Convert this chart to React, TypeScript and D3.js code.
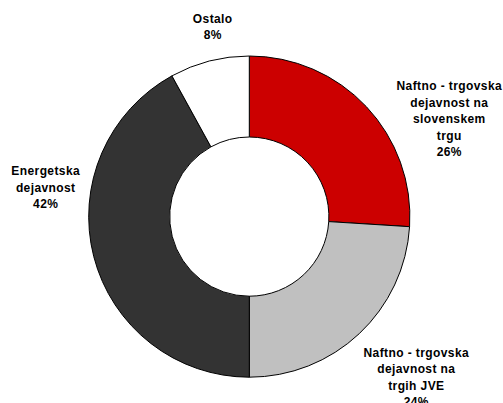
import { useEffect, useRef } from 'react';
import * as d3 from 'd3';

// Shares of activity (%), clockwise from 12 o'clock
const categories = [
  'Naftno - trgovska dejavnost na slovenskem trgu',
  'Naftno - trgovska dejavnost na trgih JVE',
  'Energetska dejavnost',
  'Ostalo',
];
const values = [26, 24, 42, 8];
const labelLines = [
  ['Naftno - trgovska', 'dejavnost na', 'slovenskem', 'trgu'],
  ['Naftno - trgovska', 'dejavnost na', 'trgih JVE'],
  ['Energetska', 'dejavnost'],
  ['Ostalo'],
];
const colors = ['#cc0000', '#c0c0c0', '#333333', '#ffffff'];

const WIDTH = 503;
const HEIGHT = 403;
const CX = 249.3;
const CY = 216.6;
const OUTER = 160.6;
const INNER = 79.6;
const LINE_H = 16.5;

// label block centre (first line) as offsets from the donut centre
const labelAnchor: [number, number][] = [
  [200, -130.6],
  [167, 135.8],
  [-203.6, -45.6],
  [-36.6, -198.3],
];

export default function App() {
  const svgRef = useRef<SVGSVGElement>(null);

  useEffect(() => {
    if (!svgRef.current) return;
    const svg = d3.select(svgRef.current);
    svg.selectAll('*').remove();

    const pie = d3
      .pie<number>()
      .sort(null)
      .value((d: number) => d);
    const arcs = pie(values);
    const arc = d3.arc<d3.PieArcDatum<number>>().innerRadius(INNER).outerRadius(OUTER);

    const g = svg.append('g').attr('transform', `translate(${CX}, ${CY})`);

    g.selectAll('path')
      .data(arcs)
      .enter()
      .append('path')
      .attr('d', arc)
      .attr('fill', (_d: unknown, i: number) => colors[i])
      .attr('stroke', '#000000')
      .attr('stroke-width', 1)
      .attr('stroke-linejoin', 'round');

    arcs.forEach((a, i) => {
      const [lx, ly] = labelAnchor[i];
      const lines = [...labelLines[i], `${values[i]}%`];
      const text = g
        .append('text')
        .attr('text-anchor', 'middle')
        .attr('font-family', '"Liberation Sans", Arial, sans-serif')
        .attr('font-size', '12px')
        .attr('font-weight', 'bold')
        .attr('letter-spacing', '0.4px')
        .attr('fill', '#000000')
        .attr('aria-label', categories[i]);
      lines.forEach((line, j) => {
        text
          .append('tspan')
          .attr('x', lx)
          .attr('y', ly + j * LINE_H)
          .attr('dy', '0.35em')
          .text(line);
      });
      void a;
    });
  }, []);

  return (
    <div style={{ position: 'absolute', left: 0, top: 0, width: WIDTH, height: HEIGHT, background: '#ffffff' }}>
      <svg ref={svgRef} width={WIDTH} height={HEIGHT} style={{ display: 'block' }} />
    </div>
  );
}
